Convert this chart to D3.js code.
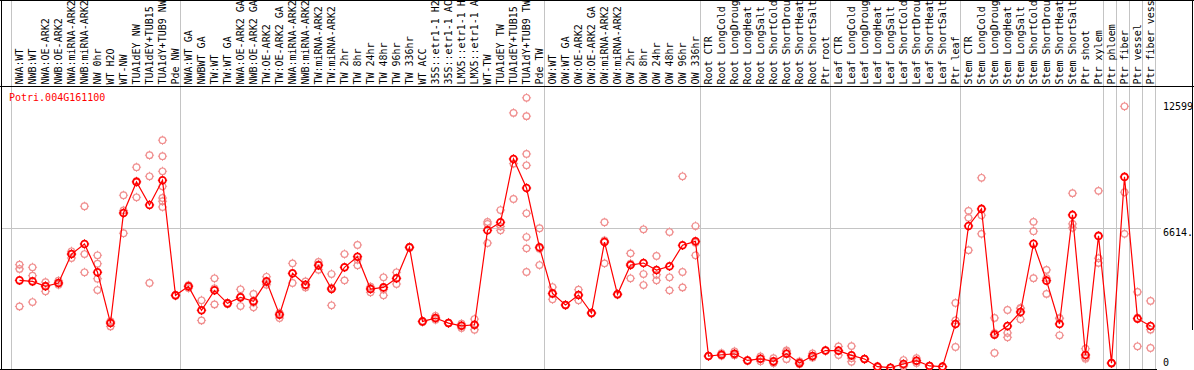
<!DOCTYPE html>
<html>
<head>
<meta charset="utf-8">
<script src="https://cdn.jsdelivr.net/npm/d3@7"></script>
<style>
  body { margin: 0; background: #fff; }
  text { font-family: "DejaVu Sans Mono", monospace; font-size: 10px; }
</style>
</head>
<body>
<div id="chart"></div>
<script>
// data
const geneName = "Potri.004G161100";

const samples = [
  "NWA:WT", "NWB:WT", "NWA:OE-ARK2", "NWB:OE-ARK2", "NWA:miRNA-ARK2", "NWB:miRNA-ARK2",
  "NW 0hr", "WT H2O", "WT-NW", "TUA1dEY NW", "TUA1dEY+TUB15 NW", "TUA1dY+TUB9 NW", "Pde NW",
  "NWA:WT GA", "NWBWT GA", "TW:WT", "TW:WT GA", "NWA:OE-ARK2 GA", "NWB:OE-ARK2 GA",
  "TW:OE-ARK2", "TW:OE-ARK2 GA", "NWA:miRNA-ARK2", "NWB:miRNA-ARK2", "TW:miRNA-ARK2",
  "TW:miRNA-ARK2", "TW 2hr", "TW 8hr", "TW 24hr", "TW 48hr", "TW 96hr", "TW 336hr",
  "WT ACC", "35S::etr1-1 H2O", "35S::etr1-1 ACC", "LMX5::etr1-1 H2O", "LMX5::etr1-1 ACC",
  "WT-TW", "TUA1dEY TW", "TUA1dEY+TUB15 TW", "TUA1dY+TUB9 TW", "Pde TW",
  "OW:WT", "OW:WT GA", "OW:OE-ARK2", "OW:OE-ARK2 GA", "OW:miRNA-ARK2", "OW:miRNA-ARK2",
  "OW 2hr", "OW 8hr", "OW 24hr", "OW 48hr", "OW 96hr", "OW 336hr",
  "Root CTR", "Root LongCold", "Root LongDrought", "Root LongHeat", "Root LongSalt",
  "Root ShortCold", "Root ShortDrought", "Root ShortHeat", "Root ShortSalt", "Ptr root",
  "Leaf CTR", "Leaf LongCold", "Leaf LongDrought", "Leaf LongHeat", "Leaf LongSalt",
  "Leaf ShortCold", "Leaf ShortDrought", "Leaf ShortHeat", "Leaf ShortSalt", "Ptr leaf",
  "Stem CTR", "Stem LongCold", "Stem LongDrought", "Stem LongHeat", "Stem LongSalt",
  "Stem ShortCold", "Stem ShortDrought", "Stem ShortHeat", "Stem ShortSalt", "Ptr shoot",
  "Ptr xylem", "Ptr phloem", "Ptr fiber", "Ptr vessel", "Ptr fiber vessel"
];

// index of the first sample of each group (plus the end)
const groupStarts = [0, 13, 41, 53, 63, 73, 84, 85, 86, 87, 88];

const means = [
  4060, 4010, 3770, 3930, 5350, 5845, 4455, 1965, 7365, 8890, 7760, 8970, 3325,
  3765, 2590, 3570, 2930, 3225, 3030, 4010, 2370, 4405, 3845, 4795, 3635, 4700, 5220,
  3635, 3715, 4160, 5680, 2045, 2210, 1965, 1830, 1880, 6515, 6910, 10015, 8590, 5680,
  3420, 2850, 3340, 2455, 5940, 3375, 4810, 4910, 4565, 4750, 5780, 5975,
  345, 410, 455, 130, 210, 85, 460, 0, 345, 615,
  610, 380, 200, -175, -225, -45, 118, -140, -175, 1920,
  6730, 7565, 1395, 1820, 2510, 5850, 4045, 1920, 7270, 400, 6240,
  0, 9135, 2180, 1820
];

const replicates = [
  [4830, 4620, 2780], [4700, 4290, 2995], [3975, 3520, 3800], [4040, 3845, 3930],
  [5485, 5155, 5350], [7695, 5350, 4455], [5290, 4875, 4140, 3585], [1800, 2050, 2040],
  [8235, 6370, 7490], [9610, 8135, 8925], [10200, 9165, 3930],
  [10935, 10150, 9410, 8675, 8100, 7940, 7660], [3300, 3340, 3330],
  [3680, 3800, 3820], [3080, 2095, 2590], [4160, 2880, 3670], [2900, 2950, 2940],
  [3620, 2800, 3255], [3390, 2735, 2965], [4235, 3845, 3950], [2210, 2450, 2450],
  [4895, 3930, 4390], [4010, 3715, 3810], [4960, 4580, 4845], [4370, 2835, 3700],
  [5350, 4060, 4690], [5795, 4795, 5070], [3745, 3470, 3690], [4210, 3325, 3610],
  [4455, 3880, 4145], [5650, 5700, 5690], [2020, 2060, 2055], [2320, 2125, 2185],
  [1990, 1950, 1955], [1930, 1720, 1840], [2160, 1635, 1845], [6925, 6825, 5890],
  [7510, 6515, 6705], [12275, 9785, 8050],
  [13015, 12115, 10260, 9705, 7350, 6185, 5630, 4470], [6615, 4810, 5615],
  [3730, 3130, 3400], [2830, 2860, 2860], [3600, 3080, 3340], [2430, 2470, 2465],
  [6910, 4895, 6015], [3350, 3390, 3385], [5385, 4160, 4885], [6565, 4370, 3830],
  [5255, 4335, 4060], [6430, 4210, 3570], [9165, 4470, 3715], [6725, 5290, 5910],
  [330, 350, 355], [490, 380, 360], [575, 400, 390], [120, 140, 130], [330, 85, 215],
  [240, 20, 0], [625, 195, 560], [85, -20, -50], [475, 280, 280], [600, 620, 625],
  [820, 395, 615], [835, 65, 240], [190, 210, 200], [-160, -180, -185], [-220, -230, -225],
  [150, -140, -145], [245, 0, 110], [-130, -145, -145], [-170, -180, -175], [2950, 2100, 790],
  [7470, 7125, 5540], [9090, 7255, 6340], [2215, 495, 1475], [2605, 1480, 1265],
  [2670, 2150, 2710], [6930, 6470, 4165], [4570, 3395, 4170], [2180, 1365, 2215],
  [8335, 6830, 6635], [705, 215, 280], [8450, 5145, 4915],
  [10, -10, 0], [12599, 8385, 6340], [3490, 825, 2225], [3050, 1640, 740]
];

const yMax = 12599;
const yGrid = 6614;
const tickLabels = ["12599", "6614.", "0"];

// sizes
const W = 1194, H = 370;
const headerH = 86;
const plotLeft = 11, step = 13;
const plotRight = plotLeft + step * samples.length;
const plotBottom = 369;
const maxChars = 14; // header only has room for 14 characters

const svg = d3.select("#chart").append("svg")
    .attr("width", W)
    .attr("height", H);

const x = d3.scaleBand()
    .domain(d3.range(samples.length))
    .range([plotLeft, plotRight])
    .padding(0);
const px = i => x(i) + 8.5;

const y = d3.scaleLinear()
    .domain([0, yMax])
    .range([363.1, 106.3]);

// grid + dividers
svg.append("line")
    .attr("x1", 2).attr("x2", 1161)
    .attr("y1", Math.round(y(yGrid)) + 0.5).attr("y2", Math.round(y(yGrid)) + 0.5)
    .attr("stroke", "#c4c4c4");

svg.selectAll(".divider")
    .data(groupStarts)
    .enter()
    .append("line")
    .attr("class", "divider")
    .attr("x1", d => (d < samples.length ? x(d) : plotRight) + 0.5)
    .attr("x2", d => (d < samples.length ? x(d) : plotRight) + 0.5)
    .attr("y1", 0).attr("y2", plotBottom)
    .attr("stroke", "#c4c4c4");

// frame
svg.append("line").attr("x1", 0).attr("x2", W).attr("y1", 0.5).attr("y2", 0.5).attr("stroke", "#000");
svg.append("line").attr("x1", 0).attr("x2", W).attr("y1", headerH + 0.5).attr("y2", headerH + 0.5).attr("stroke", "#000");
svg.append("line").attr("x1", 1.5).attr("x2", 1.5).attr("y1", 0).attr("y2", H).attr("stroke", "#000");
svg.append("line").attr("x1", 0).attr("x2", plotRight + 2).attr("y1", plotBottom + 0.5).attr("y2", plotBottom + 0.5).attr("stroke", "#000");
svg.append("line").attr("x1", W - 1.5).attr("x2", W - 1.5).attr("y1", 0).attr("y2", 330).attr("stroke", "#000");

// sample labels in the header
svg.append("g")
    .selectAll("text")
    .data(samples)
    .enter()
    .append("text")
    .attr("transform", (d, i) => `translate(${px(i) + 3.5}, 84.5) rotate(-90)`)
    .attr("fill", "#000")
    .text(d => d.slice(0, maxChars));

// gene name
svg.append("text")
    .attr("x", 9)
    .attr("y", 100.5)
    .attr("fill", "#ff0000")
    .text(geneName);

// right-hand value labels
svg.append("text").attr("x", 1163).attr("y", y(yMax) + 4).attr("fill", "#000").text(tickLabels[0]);
svg.append("text").attr("x", 1163).attr("y", y(yGrid) + 8).attr("fill", "#000").text(tickLabels[1]);
svg.append("text").attr("x", 1163).attr("y", y(0) + 2.5).attr("fill", "#000").text(tickLabels[2]);

// marker = small circle with four spokes
function marker(g, color, r, sw) {
  g.append("circle")
      .attr("r", r)
      .attr("fill", "none")
      .attr("stroke", color)
      .attr("stroke-width", sw);
  g.append("path")
      .attr("d", `M0,${-r - 1.3}V${-r + 0.3}M0,${r - 0.3}V${r + 1.3}M${-r - 1.3},0H${-r + 0.3}M${r - 0.3},0H${r + 1.3}`)
      .attr("stroke", color)
      .attr("stroke-width", 1);
}

// replicate points
const repPoints = [];
replicates.forEach((vals, i) => vals.forEach(v => repPoints.push({ i: i, v: v })));

svg.append("g")
    .selectAll("g")
    .data(repPoints)
    .enter()
    .append("g")
    .attr("transform", d => `translate(${px(d.i)}, ${y(d.v)})`)
    .each(function() { marker(d3.select(this), "#f09090", 3.3, 1.2); });

// mean points + line
svg.append("g")
    .selectAll("g")
    .data(means)
    .enter()
    .append("g")
    .attr("transform", (d, i) => `translate(${px(i)}, ${y(d)})`)
    .each(function() { marker(d3.select(this), "#ff0000", 3.4, 1.8); });

const line = d3.line()
    .x((d, i) => px(i))
    .y(d => y(d));

svg.append("path")
    .datum(means)
    .attr("fill", "none")
    .attr("stroke", "#ff0000")
    .attr("stroke-width", 1.2)
    .attr("d", line);
</script>
</body>
</html>
